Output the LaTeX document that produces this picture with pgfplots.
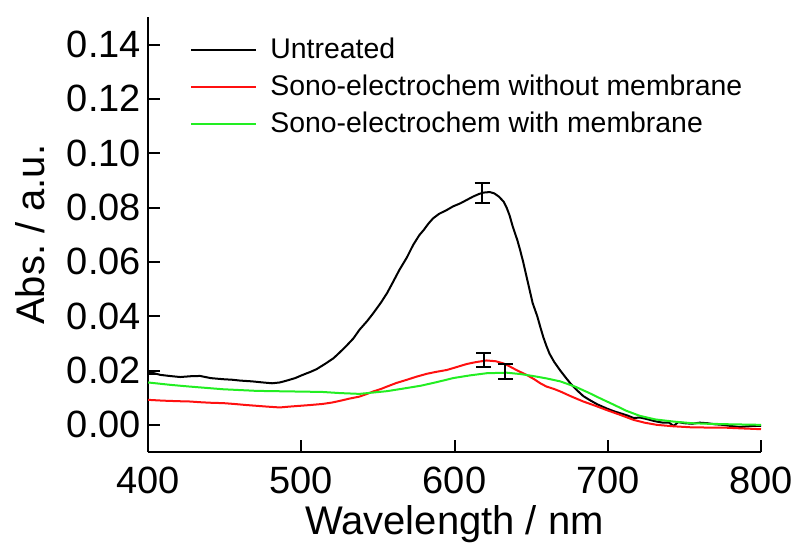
\documentclass[border=0pt]{standalone}
\usepackage{fontspec}
\setmainfont{Liberation Sans}
\usepackage{pgfplots}
\pgfplotsset{compat=1.18}
\definecolor{specred}{HTML}{FF1010}
\definecolor{specgreen}{HTML}{22EE22}

\begin{document}
\begin{tikzpicture}
\begin{axis}[
  name=main,
  scale only axis,
  width=306.5pt, height=217.3pt,
  xmin=400, xmax=800, ymin=-0.01, ymax=0.15,
  axis x line*=bottom, axis y line*=left,
  axis line style={line width=1pt, black},
  tick align=inside, major tick length=6pt,
  tick style={line width=1pt, black},
  xtick={400,500,600,700,800},
  ytick={0,0.02,0.04,0.06,0.08,0.10,0.12,0.14},
  yticklabel style={/pgf/number format/.cd, fixed, fixed zerofill, precision=2},
  xticklabel style={yshift=-4pt},
  /pgf/number format/assume math mode=true,
  tick label style={font=\fontsize{19}{21}\selectfont},
  label style={font=\fontsize{20}{22}\selectfont},
  xlabel={Wavelength / nm},
  ylabel={Abs.\ / a.u.},
  xlabel style={at={(axis description cs:0.5,-0.167)}, anchor=center},
  ylabel style={at={(axis description cs:-0.1925,0.5)}, anchor=center, rotate=0},
  legend style={draw=none, fill=none, at={(axis description cs:0.0685,0.957)},
    anchor=north west, font=\fontsize{14.2}{16}\selectfont,
    inner sep=0pt, row sep=4.5pt, column sep=6.5pt,
    nodes={inner sep=0pt, text height=11pt, text depth=3pt}},
  legend cell align=left,
  legend image code/.code={\draw[#1, line width=1pt] (0pt,0pt) -- (32.5pt,0pt);},
]
% Untreated
\addplot[black, line width=1pt] coordinates {
(400,0.0196) (404,0.0190) (408,0.0184) (414,0.0180) (421,0.0176) (428,0.0179)
(434,0.0180) (441,0.0172) (449,0.0168) (455,0.0166) (460,0.0163) (468,0.0160)
(475,0.0156) (481,0.0153) (486,0.0156) (490,0.0162) (496,0.0172) (501,0.0184)
(506,0.0195) (510,0.0205) (516,0.0226) (521,0.0245) (525,0.0266) (530,0.0294)
(534,0.0318) (538,0.0350) (543,0.0382) (547,0.0411) (552,0.0450) (556,0.0485)
(560,0.0527) (564,0.0570) (569,0.0617) (573,0.0662) (577,0.0698) (580,0.0718)
(583,0.0741) (586,0.0760) (590,0.0777) (595,0.0791) (599,0.0804) (604,0.0816)
(608,0.0828) (612,0.0840) (616,0.0850) (619,0.0855) (623,0.0857) (626,0.0852)
(629,0.0840) (632,0.0822) (634,0.0800) (636,0.0770) (638,0.0730) (641,0.0680)
(643,0.0640) (645,0.0595) (647,0.0546) (649,0.0497) (651,0.0448) (654,0.0400)
(656,0.0360) (658,0.0322) (660,0.0290) (662,0.0262) (665,0.0232) (669,0.0200)
(673,0.0171) (676,0.0150) (680,0.0127) (684,0.0106) (688,0.0092) (693,0.0076)
(699,0.0061) (704,0.0050) (708,0.0043) (713,0.0034) (717,0.0025) (721,0.0027)
(725,0.0022) (729,0.0016) (732,0.0012) (736,0.0008) (740,0.0008) (743,-0.0004)
(746,0.0010) (750,0.0006) (755,0.0004) (760,0.0008) (765,0.0006) (770,0.0002)
(775,0.0000) (780,-0.0004) (786,-0.0008) (790,-0.0006) (795,-0.0004) (800,-0.0004)
};
\addlegendentry{Untreated}
% Sono-electrochem without membrane
\addplot[specred, line width=1pt] coordinates {
(400,0.0092) (410,0.0089) (420,0.0087) (427,0.0086) (435,0.0083) (442,0.0081)
(449,0.0080) (456,0.0077) (464,0.0073) (471,0.0070) (478,0.0067) (486,0.0064)
(492,0.0067) (499,0.0070) (506,0.0073) (514,0.0077) (520,0.0082) (525,0.0088)
(531,0.0096) (538,0.0104) (543,0.0114) (547,0.0123) (552,0.0132) (556,0.0141)
(562,0.0154) (569,0.0166) (575,0.0177) (582,0.0188) (588,0.0195) (595,0.0202)
(601,0.0212) (608,0.0224) (614,0.0231) (621,0.0237) (627,0.0234) (632,0.0226)
(636,0.0215) (641,0.0200) (647,0.0184) (652,0.0168) (656,0.0153) (660,0.0141)
(665,0.0132) (669,0.0123) (676,0.0105) (684,0.0086) (692,0.0070) (699,0.0055)
(708,0.0037) (717,0.0018) (724,0.0008) (732,0.0000) (742,-0.0005) (754,-0.0009)
(765,-0.0010) (775,-0.0010) (787,-0.0013) (800,-0.0016)
};
\addlegendentry{Sono-electrochem without membrane}
% Sono-electrochem with membrane
\addplot[specgreen, line width=1pt] coordinates {
(400,0.0156) (415,0.0147) (427,0.0141) (438,0.0136) (449,0.0131) (460,0.0128)
(471,0.0125) (482,0.0124) (493,0.0123) (504,0.0122) (514,0.0121) (525,0.0117)
(538,0.0114) (547,0.0119) (556,0.0124) (566,0.0133) (578,0.0144) (589,0.0158)
(599,0.0172) (610,0.0182) (621,0.0190) (634,0.0192) (643,0.0187) (651,0.0180)
(660,0.0171) (669,0.0160) (679,0.0140) (688,0.0117) (696,0.0095) (704,0.0074)
(712,0.0052) (721,0.0033) (731,0.0020) (743,0.0012) (755,0.0006) (765,0.0004)
(780,0.0002) (800,0.0000)
};
\addlegendentry{Sono-electrochem with membrane}
% error bars
\pgfplotsset{ebar/.style={black, forget plot, line width=1pt,
  error bars/.cd, y dir=both, y explicit,
  error bar style={line width=1pt, black},
  error mark options={black, line width=1pt, mark size=3.75pt, rotate=90}}}
\addplot[ebar] coordinates {(618,0.0854) +- (0,0.0038)};
\addplot[ebar] coordinates {(619,0.0239) +- (0,0.0027)};
\addplot[ebar] coordinates {(633,0.0197) +- (0,0.0028)};
\addplot[ebar] coordinates {(401,0.0194) +- (0,0.0006)};
\end{axis}
\pgfresetboundingbox
\useasboundingbox ([xshift=-74pt,yshift=-46.5pt]main.south west) rectangle ([xshift=323.5pt,yshift=226pt]main.south west);
\end{tikzpicture}
\end{document}
